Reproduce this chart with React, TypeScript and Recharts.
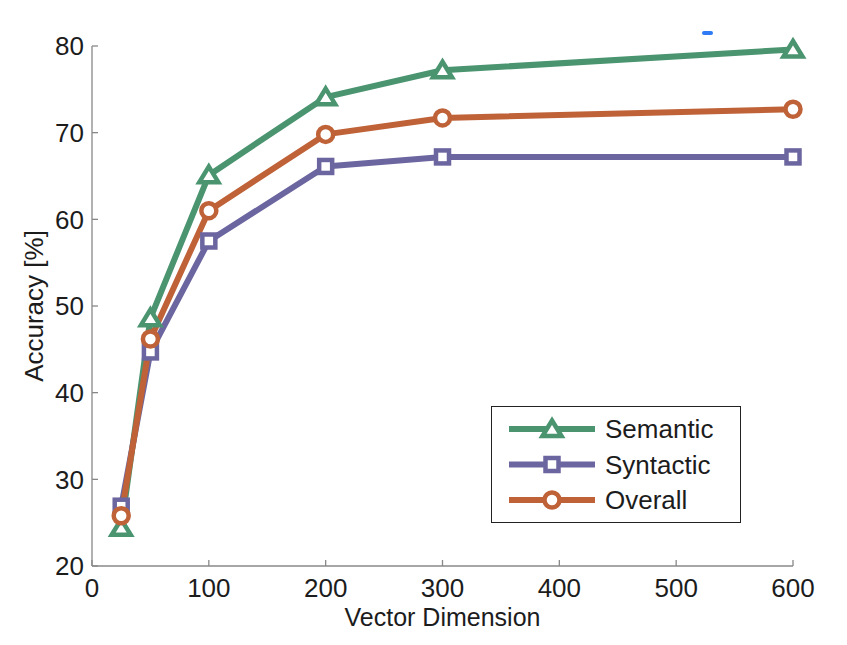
import { LineChart, Line, XAxis, YAxis, Legend } from "recharts";

const DIMS = [25, 50, 100, 200, 300, 600];
const SEMANTIC = [24.4, 48.6, 65.1, 74.1, 77.2, 79.6];
const SYNTACTIC = [26.9, 44.7, 57.5, 66.1, 67.2, 67.2];
const OVERALL = [25.8, 46.2, 61.0, 69.8, 71.7, 72.7];

const X_TICKS = [0, 100, 200, 300, 400, 500, 600];
const Y_TICKS = [20, 30, 40, 50, 60, 70, 80];

const SERIES = [
  { key: "semantic", name: "Semantic", color: "#4a9470", marker: "triangle" },
  { key: "syntactic", name: "Syntactic", color: "#6c66a0", marker: "square" },
  { key: "overall", name: "Overall", color: "#bf6238", marker: "circle" },
];

const data = DIMS.map((dim, i) => ({
  dim,
  semantic: SEMANTIC[i],
  syntactic: SYNTACTIC[i],
  overall: OVERALL[i],
}));

const FONT = "'Liberation Sans', Arial, sans-serif";
const FS = 26;
const AXIS = "#888888";
const TEXT = "#1c1c1c";

function Marker({ cx, cy, shape, color }: { cx: number; cy: number; shape: string; color: string }) {
  const sw = 4.5;
  if (shape === "triangle") {
    const d = `M${cx},${cy - 8.5} L${cx + 9.5},${cy + 7} L${cx - 9.5},${cy + 7} Z`;
    return <path d={d} fill="#fff" stroke={color} strokeWidth={sw} strokeLinejoin="miter" />;
  }
  if (shape === "square") {
    return <rect x={cx - 6.5} y={cy - 6.5} width={13} height={13} fill="#fff" stroke={color} strokeWidth={sw} />;
  }
  return <circle cx={cx} cy={cy} r={7.5} fill="#fff" stroke={color} strokeWidth={sw} />;
}

function makeDot(shape: string, color: string) {
  return (p: any) => (
    <g key={`${shape}-${p.index}`}>
      <Marker cx={p.cx} cy={p.cy} shape={shape} color={color} />
    </g>
  );
}

function LegendBox() {
  return (
    <div style={{ width: 248, height: 115, border: "1.2px solid #222", background: "#fff" }}>
      <svg width={248} height={115}>
        {SERIES.map((s, i) => {
          const y = 22 + i * 35.5;
          return (
            <g key={s.key}>
              <line x1={17} x2={103} y1={y} y2={y} stroke={s.color} strokeWidth={6} />
              <Marker cx={60} cy={y} shape={s.marker} color={s.color} />
              <text x={113} y={y} dominantBaseline="central" fontFamily={FONT} fontSize={FS} fill={TEXT}>
                {s.name}
              </text>
            </g>
          );
        })}
      </svg>
    </div>
  );
}

function YLabel(props: any) {
  const vb = props.viewBox || { x: 0, y: 46, width: 92, height: 520 };
  const cx = vb.x + 43;
  const cy = vb.y + vb.height / 2;
  return (
    <text
      x={cx}
      y={cy}
      transform={`rotate(-90 ${cx} ${cy})`}
      textAnchor="middle"
      fontFamily={FONT}
      fontSize={FS}
      fill={TEXT}
    >
      Accuracy [%]
    </text>
  );
}

const tickStyle = { fill: TEXT, fontSize: FS, fontFamily: FONT };

export default function App() {
  return (
    <div style={{ position: "absolute", left: 0, top: 0, width: 847, height: 645, background: "#fff" }}>
      <LineChart width={847} height={645} data={data} margin={{ top: 46, right: 54, left: 0, bottom: 0 }}>
        <XAxis
          xAxisId="b"
          type="number"
          dataKey="dim"
          domain={[0, 600]}
          ticks={X_TICKS}
          height={79}
          tickSize={-6}
          tickMargin={19}
          stroke={AXIS}
          strokeWidth={1.3}
          tick={tickStyle}
          label={{ value: "Vector Dimension", position: "insideBottom", offset: 19, fill: TEXT, fontSize: 25, fontFamily: FONT }}
        />
        <XAxis
          xAxisId="t"
          orientation="top"
          type="number"
          dataKey="dim"
          domain={[0, 600]}
          allowDataOverflow
          ticks={X_TICKS}
          height={0}
          tickSize={-6}
          stroke={AXIS}
          strokeWidth={1.3}
          tickFormatter={() => ""}
        />
        <YAxis
          yAxisId="l"
          type="number"
          domain={[20, 80]}
          ticks={Y_TICKS}
          width={92}
          tickSize={-6}
          tickMargin={14}
          stroke={AXIS}
          strokeWidth={1.3}
          tick={tickStyle}
          label={<YLabel />}
        />
        <YAxis
          yAxisId="r"
          orientation="right"
          type="number"
          domain={[20, 80]}
          allowDataOverflow
          ticks={Y_TICKS}
          width={0}
          tickSize={-6}
          stroke={AXIS}
          strokeWidth={1.3}
          tickFormatter={() => ""}
        />
        {SERIES.map((s) => (
          <Line
            key={s.key}
            xAxisId="b"
            yAxisId="l"
            dataKey={s.key}
            name={s.name}
            stroke={s.color}
            strokeWidth={6}
            strokeLinejoin="round"
            dot={makeDot(s.marker, s.color)}
            activeDot={false}
            isAnimationActive={false}
          />
        ))}
        <Legend
          layout="horizontal"
          verticalAlign="middle"
          align="center"
          content={<LegendBox />}
          wrapperStyle={{ left: 491, top: 406, width: 250, height: 117 }}
        />
      </LineChart>
      <div
        style={{
          position: "absolute",
          left: 702,
          top: 31,
          width: 11,
          height: 4,
          borderRadius: 2,
          background: "#2f7bf5",
        }}
      />
    </div>
  );
}
